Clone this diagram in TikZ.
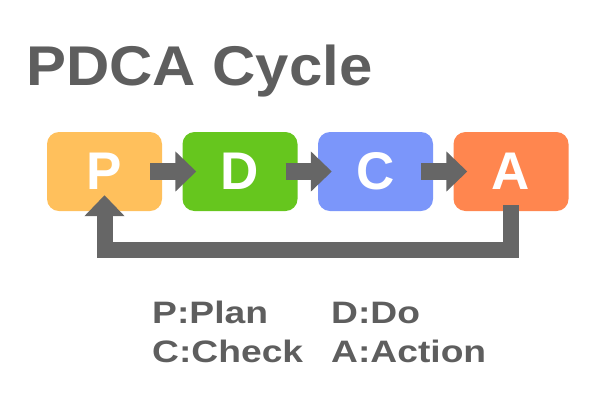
\documentclass[tikz,border=0pt]{standalone}
\usepackage{fontspec}
\setmainfont{Liberation Sans}
\usetikzlibrary{arrows.meta,positioning}
\definecolor{plancol}{HTML}{FFC05C}
\definecolor{docol}{HTML}{66C61E}
\definecolor{checkcol}{HTML}{7B96FA}
\definecolor{actcol}{HTML}{FF864F}
\definecolor{arrowgray}{HTML}{666666}
\definecolor{textgray}{HTML}{5E5E5E}

\begin{document}
\begin{tikzpicture}[x=1pt,y=-1pt]
	\useasboundingbox (0,0) rectangle (612,408);
	\node[anchor=base west,inner sep=0,xscale=1.07,text=textgray,font=\fontsize{56}{56}\selectfont\bfseries] (title) at (26,85) {PDCA Cycle};

	\begin{scope}[every node/.style={rounded corners=12pt,minimum width=115pt,minimum height=79pt,inner sep=0,text=white,font=\fontsize{53}{53}\selectfont\bfseries}]
		\node[fill=plancol] (P) at (104.5,171.5) {P};
		\node[fill=docol] (D) at (240,171.5) {D};
		\node[fill=checkcol] (C) at (375.5,171.5) {C};
		\node[fill=actcol] (A) at (511,171.5) {A};
	\end{scope}

	\begin{scope}[>={Triangle[length=21pt,width=39pt]},draw=arrowgray,line width=17pt]
		\draw[->,shorten <=-12pt,shorten >=-14pt] (P.east) -- (D.west);
		\draw[->,shorten <=-12pt,shorten >=-14pt] (D.east) -- (C.west);
		\draw[->,shorten <=-12pt,shorten >=-14pt] (C.east) -- (A.west);

		\draw[->,line width=16pt,shorten <=-6pt,shorten >=-16pt] (A.south) -- ++(0,39) -| (P.south);
	\end{scope}

	\begin{scope}[every node/.style={anchor=base west,inner sep=0,xscale=1.2,text=textgray,font=\fontsize{31}{31}\selectfont\bfseries}]
		\node (plan) at (152,323) {P:Plan};
		\node (do) at (331,323) {D:Do};
		\node (check) at (152,362) {C:Check};
		\node (action) at (331,362) {A:Action};
	\end{scope}
\end{tikzpicture}
\end{document}
